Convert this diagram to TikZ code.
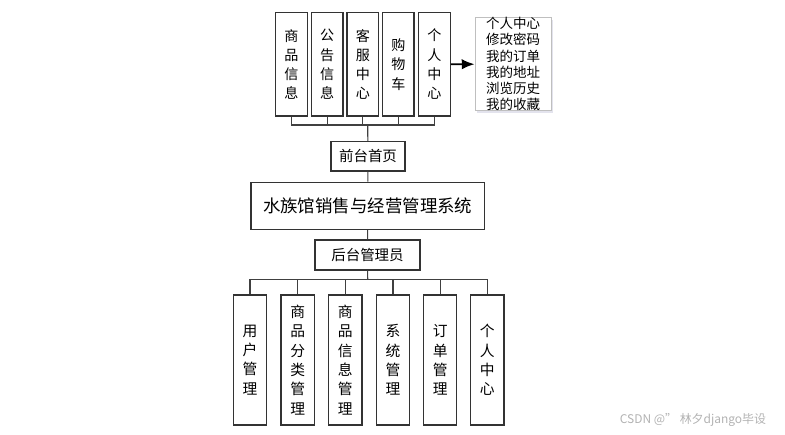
\documentclass[tikz,border=0pt]{standalone}
\usepackage{fontspec}
\setmainfont{Noto Sans CJK SC}
\usepackage{tikz}
\usetikzlibrary{shapes}
\usetikzlibrary{arrows,arrows.meta}
\usetikzlibrary{shadows}

\begin{document}
\begin{tikzpicture}[x=0.025cm,y=-0.025cm]

      \tikzset{topbox/.style = {shape=rectangle,draw=black!80,line width=0.9pt,minimum width=0.79cm,minimum height=2.58cm,inner sep=0pt,align=center,font=\fontsize{10}{13.7}\selectfont}}
      \tikzset{lowbox/.style = {shape=rectangle,draw=black!80,line width=0.9pt,minimum width=0.83cm,minimum height=3.25cm,inner sep=0pt,align=center,font=\fontsize{10.5}{13.7}\selectfont}}
      \tikzset{midbox/.style = {shape=rectangle,draw=black!80,line width=0.9pt,inner sep=0pt,font=\fontsize{10.3}{12}\selectfont}}
      \tikzset{edge/.style = {-,draw=black!75,line width=0.8pt}}
      \useasboundingbox (0,0) rectangle (785,435);
      % top row
      \node[topbox] (spxx) at (291.5,64.4) {商\\品\\信\\息};
      \node[topbox] (ggxx) at (327.2,64.4) {公\\告\\信\\息};
      \node[topbox] (kfzx) at (362.8,64.4) {客\\服\\中\\心};
      \node[topbox] (gwc)  at (398.3,64.4) {购\\物\\车};
      \node[topbox] (grzx) at (434.5,64.4) {个\\人\\中\\心};
      \node[shape=rectangle,draw=black!25,line width=0.6pt,fill=white,
            drop shadow={shadow xshift=0.05cm,shadow yshift=-0.07cm,fill=blue!20!gray!60,opacity=0.3},
            minimum width=1.9cm,minimum height=2.3cm,inner sep=0pt,align=left,
            font=\fontsize{9.6}{11.5}\selectfont] (menu) at (513,64)
            {个人中心\\修改密码\\我的订单\\我的地址\\浏览历史\\我的收藏};
      % middle
      \node[midbox,minimum width=1.85cm,minimum height=0.73cm] (home)  at (368,156.3) {前台首页};
      \node[midbox,minimum width=5.83cm,minimum height=1.18cm,font=\fontsize{12.4}{15}\selectfont] (sys) at (367.7,205.8) {水族馆销售与经营管理系统};
      \node[midbox,minimum width=2.63cm,minimum height=0.75cm] (admin) at (367.5,255) {后台管理员};
      % bottom row
      \node[lowbox] (yhgl) at (250,360)   {用\\户\\管\\理};
      \node[lowbox] (flgl) at (297.7,360) {商\\品\\分\\类\\管\\理};
      \node[lowbox] (spgl) at (345.3,360) {商\\品\\信\\息\\管\\理};
      \node[lowbox] (xtgl) at (393,360)   {系\\统\\管\\理};
      \node[lowbox] (ddgl) at (440.2,360) {订\\单\\管\\理};
      \node[lowbox] (grgl) at (487.3,360) {个\\人\\中\\心};
      \coordinate (topbus) at (367.7,125);
      \coordinate (lowbus) at (367.7,279.3);
      %edges
      \foreach \n in {spxx,ggxx,kfzx,gwc,grzx}
        \draw[edge] (\n.south) |- (topbus);
      \draw[edge] (topbus) -- (home);
      \draw[edge] (home) -- (sys);
      \draw[edge] (sys) -- (admin);
      \draw[edge] (admin) -- (lowbus);
      \foreach \n in {yhgl,flgl,spgl,xtgl,ddgl,grgl}
        \draw[edge] (\n.north) |- (lowbus);
      \draw[line width=1.3pt,-{Latex[length=3.2mm,width=2.6mm]}] (grzx) -- (menu);
      % watermark
      \node[text=black!30,font=\fontsize{8.5}{10}\selectfont] (mark) at (693,420) {CSDN @'' 林夕django毕设};
\end{tikzpicture}
\end{document}
